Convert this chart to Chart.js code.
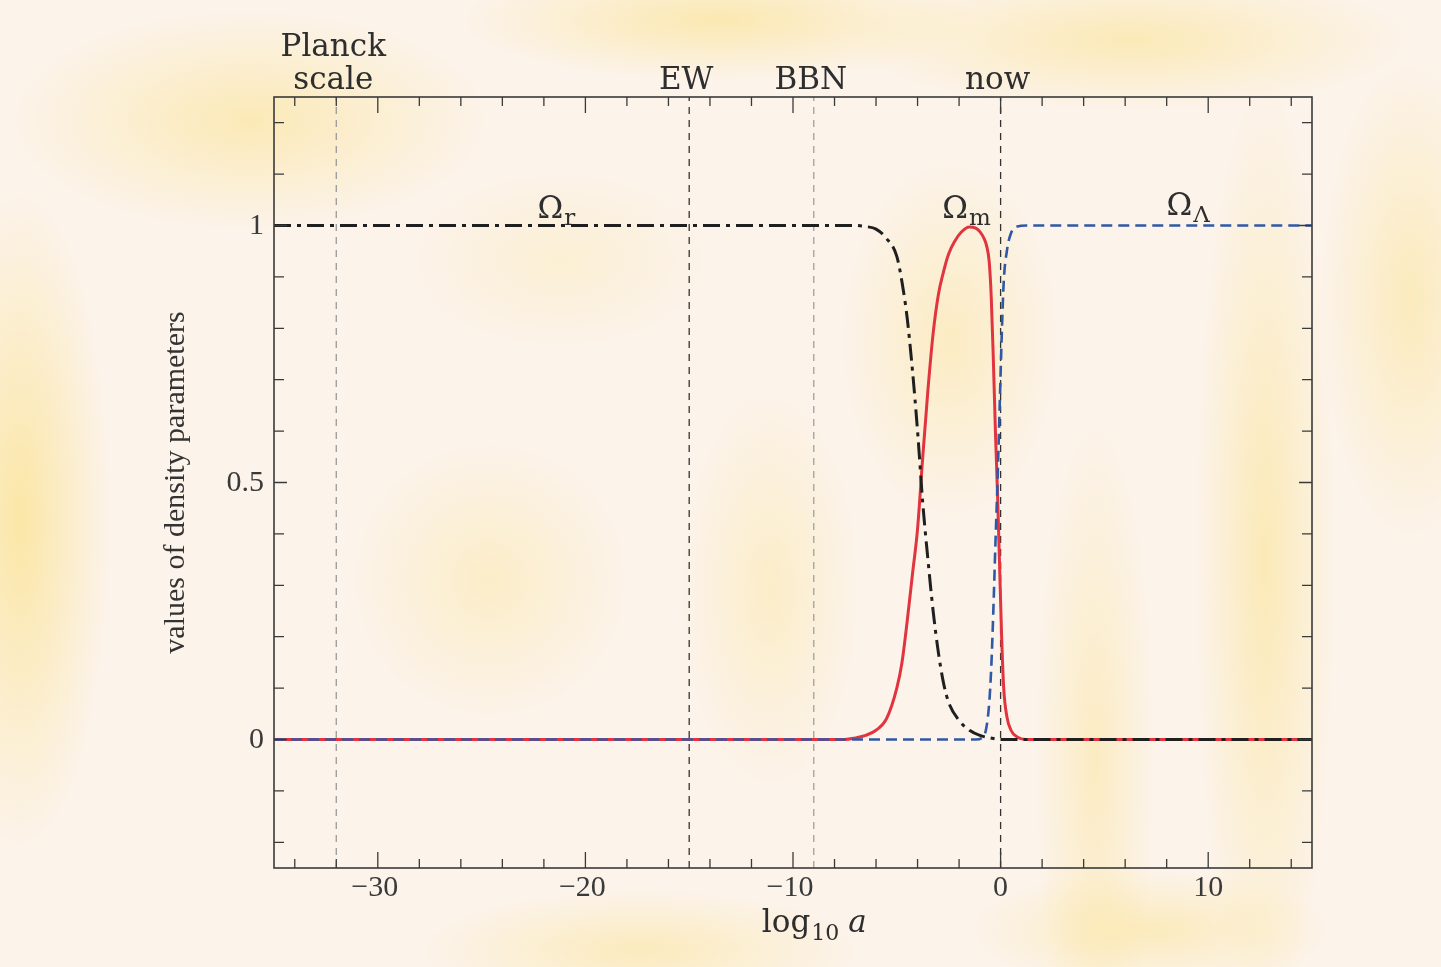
<!DOCTYPE html>
<html>
<head>
  <title>Density parameters</title>
  <style>
    body {
      margin: 0;
      width: 1441px;
      height: 967px;
      overflow: hidden;
      background-color: #fcf3ea;
      background-image:
        radial-gradient(ellipse 90px 330px at 20px 520px, rgba(250,222,120,0.6), rgba(250,222,120,0) 100%),
        radial-gradient(ellipse 240px 110px at 250px 120px, rgba(250,222,120,0.45), rgba(250,222,120,0) 100%),
        radial-gradient(ellipse 260px 60px at 720px 20px, rgba(250,222,120,0.5), rgba(250,222,120,0) 100%),
        radial-gradient(ellipse 280px 70px at 1130px 40px, rgba(250,222,120,0.45), rgba(250,222,120,0) 100%),
        radial-gradient(ellipse 70px 480px at 1265px 560px, rgba(250,222,120,0.45), rgba(250,222,120,0) 100%),
        radial-gradient(ellipse 60px 340px at 1095px 760px, rgba(250,222,120,0.35), rgba(250,222,120,0) 100%),
        radial-gradient(ellipse 140px 140px at 490px 580px, rgba(250,222,120,0.3), rgba(250,222,120,0) 100%),
        radial-gradient(ellipse 90px 200px at 770px 590px, rgba(250,222,120,0.3), rgba(250,222,120,0) 100%),
        radial-gradient(ellipse 110px 180px at 950px 340px, rgba(250,222,120,0.35), rgba(250,222,120,0) 100%),
        radial-gradient(ellipse 220px 60px at 640px 950px, rgba(250,222,120,0.4), rgba(250,222,120,0) 100%),
        radial-gradient(ellipse 180px 60px at 1150px 930px, rgba(250,222,120,0.4), rgba(250,222,120,0) 100%),
        radial-gradient(ellipse 90px 240px at 1410px 300px, rgba(250,222,120,0.4), rgba(250,222,120,0) 100%),
        radial-gradient(ellipse 150px 90px at 560px 260px, rgba(250,222,120,0.2), rgba(250,222,120,0) 100%);
    }
    #wrap {
      width: 1441px;
      height: 967px;
    }
  </style>
</head>
<body>
  <div id="wrap">
    <canvas id="chart" width="1441" height="967"></canvas>
  </div>

  <script src="https://cdn.jsdelivr.net/npm/chart.js@4.4.1/dist/chart.umd.min.js"></script>

  <script>
    // radiation: Omega_r
    const radX = [-35, -7, -6.5, -6, -5.5, -5, -4.75, -4.5, -4.25, -4.0, -3.75, -3.5, -3.25, -3.0, -2.75, -2.5, -2.0, -1.5, -1.0, -0.5, 0, 15];
    const radY = [1, 1, 0.998, 0.993, 0.975, 0.94, 0.89, 0.82, 0.72, 0.6, 0.46, 0.35, 0.25, 0.17, 0.11, 0.072, 0.037, 0.018, 0.008, 0.003, 0, 0];

    // matter: Omega_m
    const matX = [-35, -7.5, -7, -6.5, -6, -5.5, -5, -4.75, -4.5, -4.25, -4.0, -3.75, -3.5, -3.25, -3.0, -2.75, -2.5, -2.2, -1.9, -1.5, -1.2, -1.0, -0.8, -0.67, -0.55, -0.45, -0.35, -0.25, -0.15, -0.05, 0.05, 0.15, 0.3, 0.5, 0.8, 1.2, 15];
    const matY = [0, 0, 0.003, 0.008, 0.018, 0.04, 0.1, 0.15, 0.23, 0.32, 0.41, 0.55, 0.68, 0.79, 0.865, 0.91, 0.945, 0.97, 0.987, 0.997, 0.995, 0.988, 0.975, 0.96, 0.93, 0.86, 0.74, 0.6, 0.48, 0.34, 0.2, 0.1, 0.045, 0.018, 0.005, 0, 0];

    // vacuum: Omega_Lambda
    const lamX = [-35, -1.2, -0.9, -0.7, -0.55, -0.45, -0.35, -0.25, -0.15, -0.05, 0.05, 0.15, 0.3, 0.5, 0.8, 1.25, 15];
    const lamY = [0, 0, 0.003, 0.02, 0.07, 0.14, 0.25, 0.38, 0.5, 0.64, 0.78, 0.89, 0.95, 0.985, 0.998, 1, 1];

    // epochs marked with vertical lines
    const epochX = [-32, -15, -9, 0];
    const epochNames = [['Planck', 'scale'], ['EW'], ['BBN'], ['now']];
    const epochColors = ['#9a9a9a', '#333333', '#a0a0a0', '#333333'];

    const xTickLabels = [-30, -20, -10, 0, 10];
    const yTickLabels = [0, 0.5, 1];

    const xMin = -35, xMax = 15, yMin = -0.25, yMax = 1.25;

    function points(xs, ys) {
      return xs.map((x, i) => ({ x: x, y: ys[i] }));
    }

    const epochSets = epochX.map((x, i) => ({
      data: [{ x: x, y: yMin }, { x: x, y: yMax }],
      borderColor: epochColors[i],
      borderWidth: 1.3,
      borderDash: [7, 6],
      pointRadius: 0
    }));

    // frame, inward ticks, tick labels and annotation text
    const decor = {
      id: 'decor',
      afterDraw(chart) {
        const ctx = chart.ctx;
        const a = chart.chartArea;
        const xs = chart.scales.x, ys = chart.scales.y;
        ctx.save();
        ctx.strokeStyle = '#3a3a3a';
        ctx.lineWidth = 1.6;
        ctx.strokeRect(a.left, a.top, a.right - a.left, a.bottom - a.top);

        ctx.lineWidth = 1.3;
        ctx.beginPath();
        for (let v = -34; v <= 14; v += 2) {
          const px = xs.getPixelForValue(v);
          const len = v % 10 === 0 ? 16 : 9;
          ctx.moveTo(px, a.bottom); ctx.lineTo(px, a.bottom - len);
          ctx.moveTo(px, a.top); ctx.lineTo(px, a.top + len);
        }
        for (let k = -2; k <= 12; k++) {
          const py = ys.getPixelForValue(k / 10);
          const len = k % 5 === 0 ? 13 : 10;
          ctx.moveTo(a.left, py); ctx.lineTo(a.left + len, py);
          ctx.moveTo(a.right, py); ctx.lineTo(a.right - len, py);
        }
        ctx.stroke();

        // tick labels
        ctx.fillStyle = '#3a3a3a';
        ctx.font = '30px "Liberation Serif"';
        ctx.textAlign = 'center';
        ctx.textBaseline = 'alphabetic';
        xTickLabels.forEach(v => {
          const t = v < 0 ? '\u2212' + Math.abs(v) : String(v);
          ctx.fillText(t, xs.getPixelForValue(v) - (v < 0 ? 3 : 0), a.bottom + 28);
        });
        ctx.textAlign = 'right';
        ctx.textBaseline = 'middle';
        yTickLabels.forEach(v => {
          ctx.fillText(String(v), a.left - 10, ys.getPixelForValue(v) + 1);
        });

        // epoch names above the frame
        ctx.fillStyle = '#2e2e2e';
        ctx.textAlign = 'center';
        ctx.textBaseline = 'alphabetic';
        ctx.font = '31px "DejaVu Serif"';
        epochX.forEach((x, i) => {
          const px = xs.getPixelForValue(x);
          const lines = epochNames[i];
          lines.forEach((t, j) => {
            const y = a.top - 8 - (lines.length - 1 - j) * 33;
            ctx.fillText(t, px - 3, y);
          });
        });

        // curve labels with subscripts
        function omega(x, y, sub) {
          const px = xs.getPixelForValue(x);
          const py = ys.getPixelForValue(y);
          ctx.textAlign = 'left';
          ctx.font = '31px "DejaVu Serif"';
          const w = ctx.measureText('\u03A9').width;
          ctx.fillText('\u03A9', px - w / 2 - 6, py);
          ctx.font = '23px "DejaVu Serif"';
          ctx.fillText(sub, px + w / 2 - 5, py + 7);
        }
        omega(-21.4, 1.015, 'r');
        omega(-1.9, 1.015, 'm');
        omega(8.9, 1.02, '\u039B');

        // x axis title: log10 a
        ctx.textAlign = 'left';
        const tx = xs.getPixelForValue(-11.5);
        const ty = a.bottom + 64;
        ctx.font = '31px "DejaVu Serif"';
        ctx.fillText('log', tx, ty);
        let w = ctx.measureText('log').width;
        ctx.font = '22px "DejaVu Serif"';
        ctx.fillText('10', tx + w + 1, ty + 8);
        w += ctx.measureText('10').width + 10;
        ctx.font = 'italic 31px "DejaVu Serif"';
        ctx.fillText('a', tx + w, ty);
        ctx.restore();
      }
    };

    new Chart(document.getElementById('chart'), {
      type: 'line',
      data: {
        datasets: [
          {
            label: '\u03A9r',
            data: points(radX, radY),
            borderColor: '#1f1f1f',
            borderWidth: 3,
            borderDash: [17, 6, 4, 6],
            cubicInterpolationMode: 'monotone',
            pointRadius: 0
          },
          {
            label: '\u03A9\u039B',
            data: points(lamX, lamY),
            borderColor: '#2f58a6',
            borderWidth: 2.6,
            borderDash: [11, 6],
            cubicInterpolationMode: 'monotone',
            pointRadius: 0
          },
          {
            label: '\u03A9m',
            data: points(matX, matY),
            borderColor: '#e2343f',
            borderWidth: 3,
            cubicInterpolationMode: 'monotone',
            pointRadius: 0
          },
          ...epochSets
        ]
      },
      options: {
        responsive: false,
        animation: false,
        layout: { padding: { left: 140, right: 129, top: 97, bottom: 0 } },
        plugins: {
          legend: { display: false },
          tooltip: { enabled: false }
        },
        scales: {
          x: {
            type: 'linear',
            min: xMin,
            max: xMax,
            grid: { display: false },
            border: { display: false },
            afterFit(scale) { scale.height = 99; },
            ticks: { display: false }
          },
          y: {
            min: yMin,
            max: yMax,
            grid: { display: false },
            border: { display: false },
            afterFit(scale) { scale.width = 134; },
            ticks: { display: false },
            title: {
              display: true,
              text: 'values of density parameters',
              color: '#333',
              font: { family: 'Liberation Serif', size: 30 },
              padding: { top: 18, bottom: 0 }
            }
          }
        }
      },
      plugins: [decor]
    });
  </script>
</body>
</html>
